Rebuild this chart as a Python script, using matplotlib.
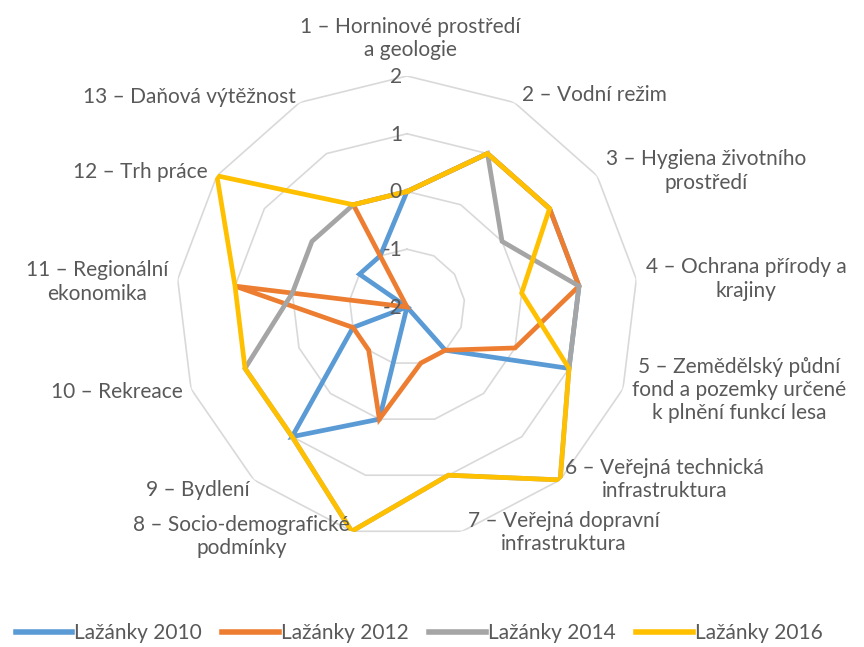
import numpy as np
import matplotlib
matplotlib.use("Agg")
import matplotlib.pyplot as plt
import matplotlib.transforms as mtrans

categories = [
    "1 – Horninové prostředí\na geologie",
    "2 – Vodní režim",
    "3 – Hygiena životního\nprostředí",
    "4 – Ochrana přírody a\nkrajiny",
    "5 – Zemědělský půdní\nfond a pozemky určené\nk plnění funkcí lesa",
    "6 – Veřejná technická\ninfrastruktura",
    "7 – Veřejná dopravní\ninfrastruktura",
    "8 – Socio-demografické\npodmínky",
    "9 – Bydlení",
    "10 – Rekreace",
    "11 – Regionální\nekonomika",
    "12 – Trh práce",
    "13 – Daňová výtěžnost",
]
series_names = ["Lažánky 2010", "Lažánky 2012", "Lažánky 2014", "Lažánky 2016"]
v2010 = [0, 1, 1, 1, 1, -1, -2, 0, 1, -1, -2, -1, -1]
v2012 = [0, 1, 1, 1, 0, -1, -1, 0, -1, -1, 1, -2, 0]
v2014 = [0, 1, 0, 1, 1, 2, 1, 2, 1, 1, 0, 0, 0]
v2016 = [0, 1, 1, 0, 1, 2, 1, 2, 1, 1, 1, 2, 0]
ring_ticks = [-2, -1, 0, 1, 2]

colors = ["#5B9BD5", "#ED7D31", "#A5A5A5", "#FFC000"]
text_color = "#595959"
grid_color = "#D9D9D9"
FONT = "Lato"
FS = 15

W, H = 864, 647
fig = plt.figure(figsize=(W / 100, H / 100), dpi=100)
cx, cy, R = 407, 307, 231
ax = fig.add_axes([(cx - R) / W, (H - cy - R) / H, 2 * R / W, 2 * R / H], projection="polar")
ax.set_theta_offset(np.pi / 2)
ax.set_theta_direction(-1)
ax.set_ylim(-2, 2)
ax.set_axis_off()

n = len(categories)
theta = np.arange(n) * 2 * np.pi / n
theta_c = np.append(theta, theta[0])

# grid rings
for rv in ring_ticks[1:]:
    ax.plot(theta_c, [rv] * (n + 1), color=grid_color, lw=1.2, zorder=1)

# series
for vals, c, name in zip([v2010, v2012, v2014, v2016], colors, series_names):
    vv = list(vals) + [vals[0]]
    ax.plot(theta_c, vv, color=c, lw=3.4, label=name, zorder=3,
            solid_joinstyle="miter")

# ring tick labels
off = ax.transData + mtrans.ScaledTranslation(-0.05, -0.01, fig.dpi_scale_trans)
for rv in ring_ticks:
    ax.text(0, rv, str(rv), transform=off, fontsize=FS, family=FONT,
            color=text_color, ha="right", va="center", zorder=5)

# category labels (layout: anchor pixel, ha, va)
layout = [
    (410, 60, "center", "bottom"),
    (522, 95, "left", "center"),
    (606, 171, "left", "center"),
    (646, 279, "left", "center"),
    (632, 390, "left", "center"),
    (565, 458, "left", "top"),
    (468, 511, "left", "top"),
    (350, 515, "right", "top"),
    (250, 490, "right", "center"),
    (183, 392, "right", "center"),
    (168, 282, "right", "center"),
    (208, 172, "right", "center"),
    (296, 97, "right", "center"),
]
for lab, (px, py, ha, va) in zip(categories, layout):
    fig.text(px / W, 1 - py / H, lab, fontsize=FS, family=FONT, color=text_color,
             ha=ha, va=va, multialignment="center", linespacing=1.2)

leg = fig.legend(loc="center", bbox_to_anchor=(419 / W, 1 - 633 / H), ncol=4,
                 frameon=False, prop={"family": FONT, "size": FS},
                 handlelength=2.7, handletextpad=0.1, columnspacing=1.0)
for t in leg.get_texts():
    t.set_color(text_color)
for h in leg.get_lines():
    h.set_linewidth(4)

fig.savefig("out.png", dpi=100)
